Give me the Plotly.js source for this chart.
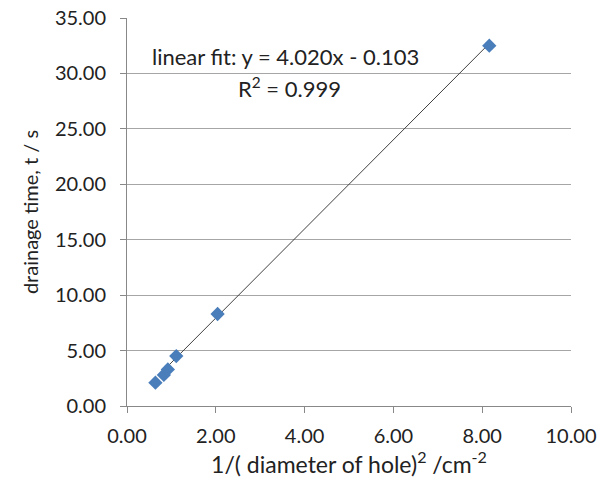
<!DOCTYPE html>
<html><head><meta charset="utf-8">
<script src="https://cdn.plot.ly/plotly-3.0.1.min.js"></script>
<style>body{margin:0;background:#fff}#c{width:611px;height:491px}</style>
</head><body><div id="c"></div>
<script>
const xVals = [0.64, 0.83, 0.92, 1.11, 2.04, 8.16];
const yVals = [2.1, 2.8, 3.3, 4.5, 8.3, 32.5];
const slope = 4.020, intercept = -0.103;
const fitX = [0.72, 8.16];
const fitY = fitX.map(x => slope * x + intercept);
const xTicks = [0, 2, 4, 6, 8, 10];
const yTicks = [0, 5, 10, 15, 20, 25, 30, 35];
const font = "Lato, 'Open Sans', sans-serif";
Plotly.newPlot('c', [
  {x: fitX, y: fitY, mode: 'lines', line: {color: '#404040', width: 1}, hoverinfo: 'skip'},
  {x: xVals, y: yVals, mode: 'markers', marker: {symbol: 'diamond', size: 11, color: '#4a7ebb'}}
], {
  width: 611, height: 491, showlegend: false,
  margin: {l: 127, r: 40, t: 18, b: 85},
  paper_bgcolor: '#fff', plot_bgcolor: '#fff',
  font: {family: font, size: 20, color: '#222'},
  xaxis: {range: [0, 10], tickvals: xTicks, ticktext: xTicks.map(v => v.toFixed(2)),
    showgrid: false, zeroline: false, showline: true, linecolor: '#888', linewidth: 1,
    ticks: 'outside', ticklen: 6, tickcolor: '#888', ticklabelstandoff: 6,
    tickfont: {size: 20},
    title: {text: '1/( diameter of hole)<sup>2</sup> /cm<sup>-2</sup>', font: {size: 23}, standoff: 8}},
  yaxis: {range: [0, 35], tickvals: yTicks, ticktext: yTicks.map(v => v.toFixed(2)),
    showgrid: true, gridcolor: '#a6a6a6', zeroline: false, showline: true, linecolor: '#888',
    ticks: 'outside', ticklen: 6, tickcolor: '#888', ticklabelstandoff: 10,
    tickfont: {size: 20},
    title: {text: 'drainage time, t / s', font: {size: 20}, standoff: 10}},
  annotations: [
    {x: 0.52, y: 31.57, xref: 'x', yref: 'y', text: 'linear fit: y = 4.020x - 0.103', showarrow: false, xanchor: 'left', yanchor: 'middle', font: {size: 22}},
    {x: 3.67, y: 28.7, xref: 'x', yref: 'y', text: 'R<sup>2</sup> = 0.999', showarrow: false, xanchor: 'center', yanchor: 'middle', font: {size: 22}}
  ]
}, {staticPlot: true});
</script></body></html>
